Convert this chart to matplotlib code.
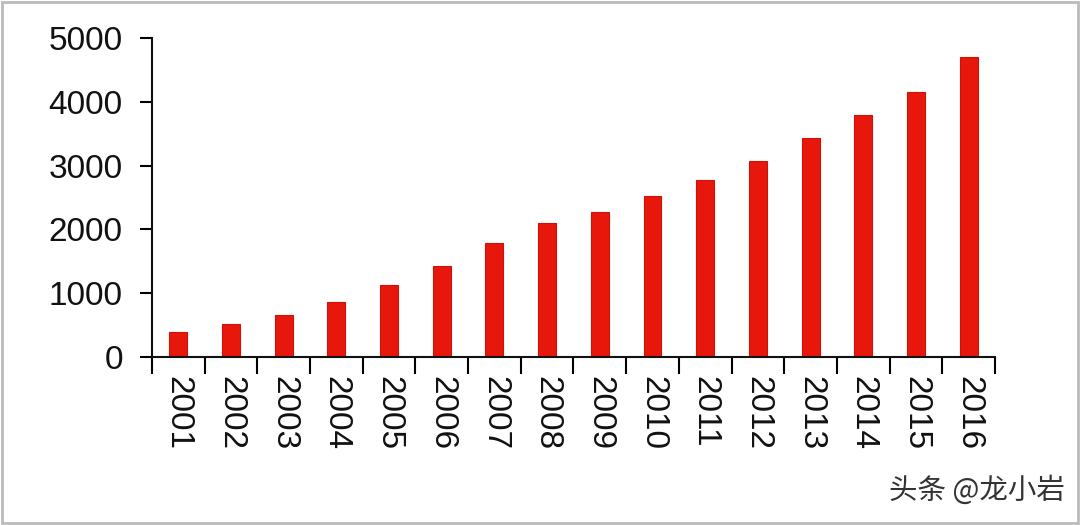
import numpy as np
import matplotlib
matplotlib.use("Agg")
import matplotlib.pyplot as plt
import matplotlib.patches as patches

years = [str(y) for y in range(2001, 2017)]
values = [390, 520, 660, 860, 1130, 1420, 1780, 2100, 2270, 2520,
          2780, 3080, 3430, 3800, 4150, 4700]
y_ticks = [0, 1000, 2000, 3000, 4000, 5000]

plt.rcParams['font.family'] = ['Liberation Sans', 'DejaVu Sans']

fig = plt.figure(figsize=(10.8, 5.25), dpi=100)
ax = fig.add_axes([0.1407, 0.32, 0.7806, 0.6076])

x = np.arange(len(years))
ax.bar(x, values, width=0.34, color='#E8170C', edgecolor='#CC1209', linewidth=0.8)

ax.set_xlim(-0.5, len(years) - 0.5)
ax.set_ylim(0, 5000)
ax.set_yticks(y_ticks)
ax.set_yticklabels([str(v) for v in y_ticks], fontsize=24, color='#111111')

# 类别标签放在中间，刻度线放在边界
ax.set_xticks(x)
ax.set_xticklabels(years, rotation=270, fontsize=24, color='#111111')
ax.tick_params(axis='x', which='major', length=0, pad=14)
ax.set_xticks(np.arange(-0.5, len(years), 1), minor=True)
ax.tick_params(axis='x', which='minor', length=12, width=1.5, direction='out')
ax.tick_params(axis='y', length=9, width=1.5, direction='out', pad=12)

for s in ['top', 'right']:
    ax.spines[s].set_visible(False)
for s in ['left', 'bottom']:
    ax.spines[s].set_linewidth(1.5)
    ax.spines[s].set_color('#111111')

# 外框
fig.patches.append(patches.Rectangle((0.002, 0.004), 0.996, 0.992, transform=fig.transFigure,
                                     fill=False, edgecolor='#BBBBBB', linewidth=2))

fig.text(0.986, 0.065, '头条 @龙小岩', ha='right', va='center', fontsize=20.5,
         color='#333333', family=['Noto Sans CJK SC', 'DejaVu Sans'])

fig.savefig('out.png', dpi=100)
